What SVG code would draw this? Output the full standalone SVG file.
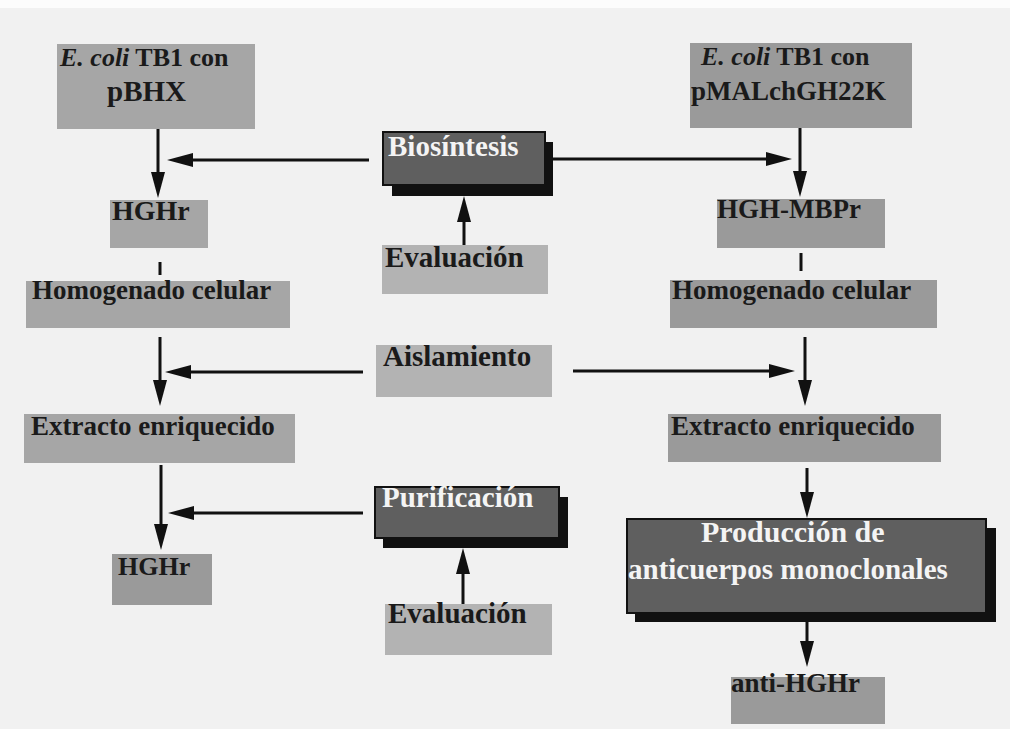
<svg xmlns="http://www.w3.org/2000/svg" width="1010" height="729" viewBox="0 0 1010 729">
<style>
.t{font-family:"Liberation Serif","Times New Roman",serif;font-weight:bold;fill:#1a1a1a}
.w{fill:#f4f4f4}
.lg{fill:#a6a6a6}
.md{fill:#9a9a9a}
.cl{fill:#b3b3b3}
.dk{fill:#5f5f5f;stroke:#111;stroke-width:2}
.sh{fill:#111}
.c{stroke:#111;stroke-width:3;fill:none}
.ca{stroke:#111;stroke-width:3;fill:none;marker-end:url(#ah)}
</style>
<defs>
<marker id="ah" viewBox="0 0 26 14" refX="16" refY="7" markerWidth="26" markerHeight="14" markerUnits="userSpaceOnUse" orient="auto">
<path d="M0,0 L26,7 L0,14 z" fill="#111"/>
</marker>
</defs>
<rect x="0" y="0" width="1010" height="729" fill="#f1f1f1"/>
<rect x="0" y="0" width="1010" height="8" fill="#fcfcfc"/>

<g id="connectors">
<path class="ca" d="M158,129 V188"/>
<path class="ca" d="M369,160 H177"/>
<path class="ca" d="M553,159 H782"/>
<path class="ca" d="M800,128 V187"/>
<path class="ca" d="M464,245 V206"/>
<path class="c" d="M160,262 V275"/>
<path class="c" d="M801,253 V271"/>
<path class="ca" d="M160,337 V396"/>
<path class="ca" d="M363,372 H175"/>
<path class="ca" d="M573,371 H785"/>
<path class="ca" d="M805,337 V396"/>
<path class="ca" d="M161,465 V540"/>
<path class="ca" d="M363,513 H178"/>
<path class="ca" d="M463,604 V558"/>
<path class="ca" d="M807,468 V508"/>
<path class="ca" d="M807,622 V657"/>
</g>

<g id="ecoli-pbhx">
<rect class="lg" x="57" y="44" width="198" height="85"/>
<text class="t" x="60" y="66" font-size="26"><tspan font-style="italic">E. coli</tspan> TB1 con</text>
<text class="t" x="107" y="101" font-size="29">pBHX</text>
</g>
<g id="ecoli-pmal">
<rect class="md" x="690" y="43" width="222" height="85"/>
<text class="t" x="701" y="65" font-size="26"><tspan font-style="italic">E. coli</tspan> TB1 con</text>
<text class="t" x="691" y="100" font-size="27">pMALchGH22K</text>
</g>
<g id="hghr-1">
<rect class="lg" x="110" y="200" width="98" height="48"/>
<text class="t" x="112" y="220" font-size="28">HGHr</text>
</g>
<g id="hgh-mbpr">
<rect class="md" x="717" y="199" width="168" height="49"/>
<text class="t" x="717" y="218" font-size="27">HGH-MBPr</text>
</g>
<g id="biosintesis">
<rect class="sh" x="392" y="142" width="161" height="54"/>
<rect class="dk" x="383" y="132" width="162" height="53"/>
<text class="t w" x="388" y="156" font-size="29">Biosíntesis</text>
</g>
<g id="evaluacion-1">
<rect class="cl" x="382" y="245" width="166" height="49"/>
<text class="t" x="385" y="267" font-size="29">Evaluación</text>
</g>
<g id="homogenado-l">
<rect class="lg" x="26" y="281" width="264" height="47"/>
<text class="t" x="32" y="299" font-size="27">Homogenado celular</text>
</g>
<g id="homogenado-r">
<rect class="md" x="670" y="280" width="267" height="48"/>
<text class="t" x="672" y="299" font-size="27">Homogenado celular</text>
</g>
<g id="aislamiento">
<rect class="cl" x="376" y="345" width="176" height="52"/>
<text class="t" x="383" y="366" font-size="29">Aislamiento</text>
</g>
<g id="extracto-l">
<rect class="lg" x="24" y="414" width="271" height="49"/>
<text class="t" x="31" y="435" font-size="27">Extracto enriquecido</text>
</g>
<g id="extracto-r">
<rect class="md" x="668" y="414" width="273" height="48"/>
<text class="t" x="671" y="435" font-size="27">Extracto enriquecido</text>
</g>
<g id="purificacion">
<rect class="sh" x="383" y="497" width="185" height="51"/>
<rect class="dk" x="375" y="487" width="184" height="51"/>
<text class="t w" x="382" y="507" font-size="29">Purificación</text>
</g>
<g id="evaluacion-2">
<rect class="cl" x="385" y="604" width="167" height="51"/>
<text class="t" x="388" y="623" font-size="29">Evaluación</text>
</g>
<g id="hghr-2">
<rect class="md" x="112" y="554" width="100" height="51"/>
<text class="t" x="118" y="575" font-size="26">HGHr</text>
</g>
<g id="produccion">
<rect class="sh" x="635" y="528" width="361" height="94"/>
<rect class="dk" x="627" y="519" width="359" height="94"/>
<text class="t w" x="701" y="542" font-size="30">Producción de</text>
<text class="t w" x="628" y="579" font-size="29">anticuerpos monoclonales</text>
</g>
<g id="anti-hghr">
<rect class="md" x="731" y="677" width="154" height="47"/>
<text class="t" x="731" y="692" font-size="27">anti-HGHr</text>
</g>
</svg>
